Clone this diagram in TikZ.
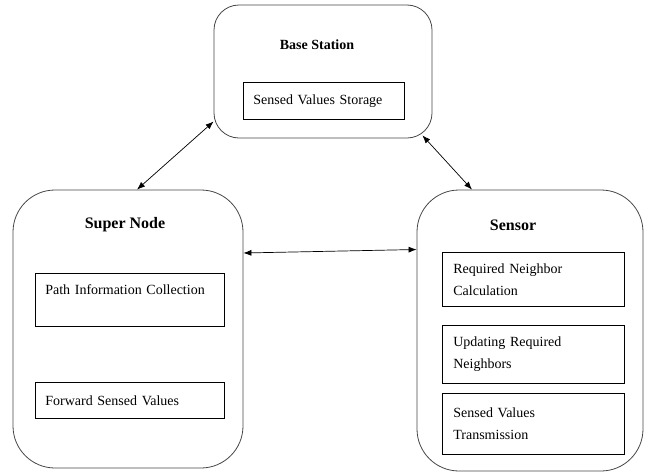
\documentclass[tikz,border=0pt]{standalone}
\usepackage{fontspec}
\setmainfont{Liberation Serif}
\usetikzlibrary{arrows.meta}
\usetikzlibrary{calc}
\definecolor{frame}{RGB}{70, 70, 70}

\begin{document}
\begin{tikzpicture}[x=1pt, y=-1pt,
        unit/.style={draw=frame, line width=0.8pt, inner sep=0pt},
        task/.style={draw, line width=0.7pt, anchor=north west, align=left, inner xsep=10pt, inner ysep=0pt, font=\fontsize{14}{22}\selectfont},
        title/.style={font=\bfseries\fontsize{16}{18}\selectfont},
        link/.style={{Latex[length=8pt,width=6pt]}-{Latex[length=8pt,width=6pt]}, line width=0.7pt}]
        \useasboundingbox (0,0) rectangle (652,474);
        % ベースステーション
        \node[unit, rounded corners=25pt, minimum width=218pt, minimum height=133pt] (base) at (323,71.5) {};
        \node[title, font=\bfseries\fontsize{14}{16}\selectfont] (basetitle) at (317,45) {Base Station};
        \node[task, text width=141pt, minimum height=37pt] (storage) at (243,82) {Sensed Values Storage};
        % スーパーノード
        \node[unit, rounded corners=42pt, minimum width=230pt, minimum height=278pt] (super) at (128,329) {};
        \node[title] (supertitle) at (125,225) {Super Node};
        \node[task, text width=169pt, minimum height=53pt] (pathinfo) at (35,273) {Path Information Collection\\[-8pt] \strut};
        \node[task, text width=169pt, minimum height=36pt] (forward) at (35,382) {Forward Sensed Values};
        % センサ
        \node[unit, rounded corners=42pt, minimum width=226pt, minimum height=281pt] (sensor) at (530,330.5) {};
        \node[title] (sensortitle) at (513,225) {Sensor};
        \node[task, text width=160pt, inner xsep=11pt, minimum height=54pt] (neighbor) at (442,252) {Required Neighbor\\Calculation};
        \node[task, text width=160pt, inner xsep=11pt, minimum height=58pt] (updating) at (442,325) {Updating Required\\Neighbors};
        \node[task, text width=160pt, inner xsep=11pt, minimum height=61pt] (transmit) at (442,393) {Sensed Values\\Transmission};
        % 双方向の矢印
        \draw[link] ([yshift=-50pt]base.west) -- ([xshift=9pt]super.north);
        \draw[link] ([xshift=-10pt, yshift=3pt]base.south east) -- ([xshift=-58pt]sensor.north);
        \draw[link] ([yshift=76pt]super.east) -- ([yshift=81pt]sensor.west);
    \end{tikzpicture}
\end{document}
